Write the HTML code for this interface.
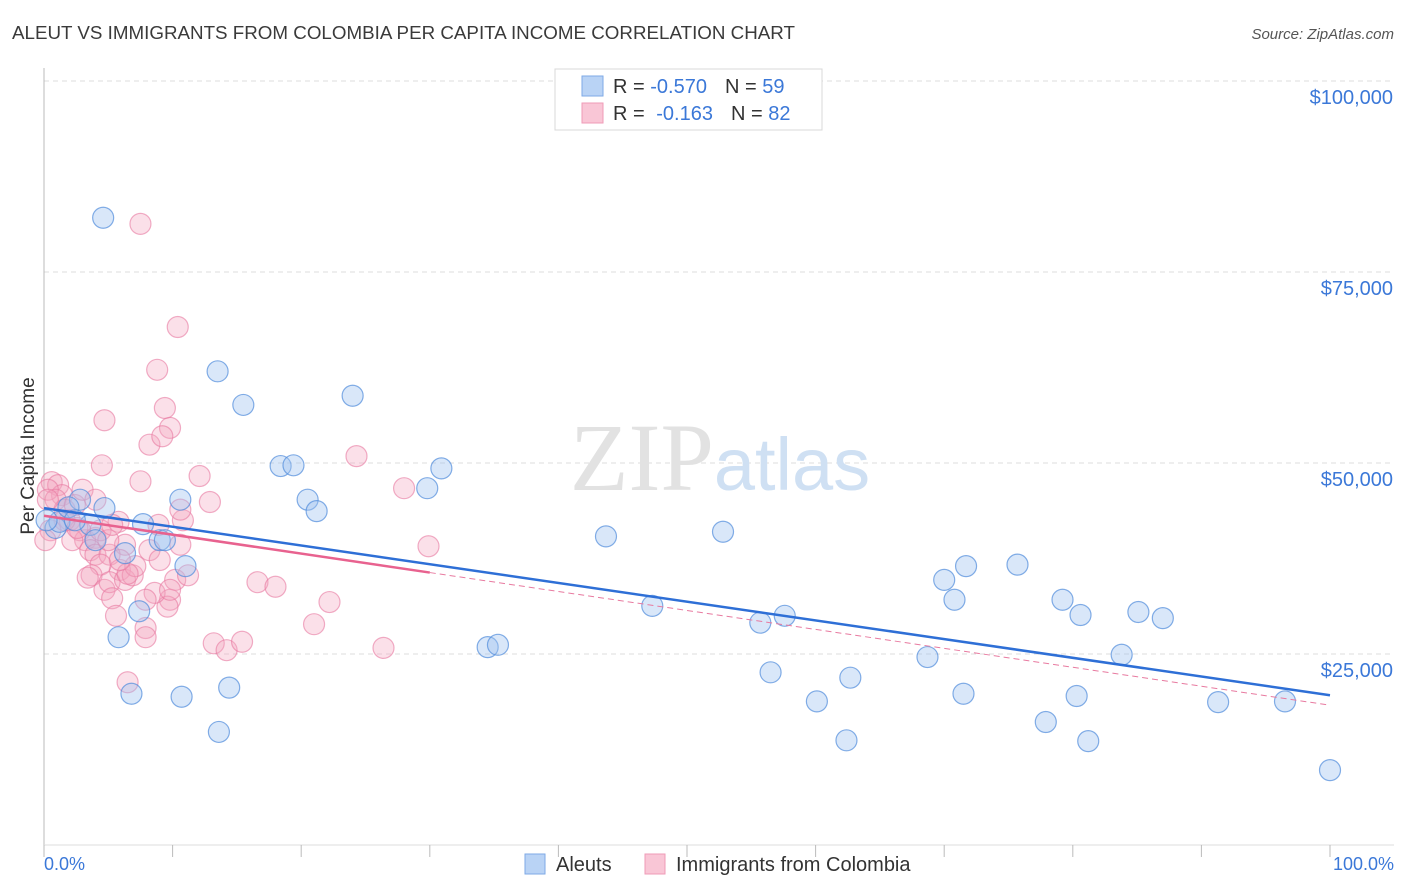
<!DOCTYPE html>
<html><head><meta charset="utf-8"><style>
body{margin:0;background:#fff;font-family:"Liberation Sans",sans-serif;}
svg{display:block}
</style></head><body>
<svg id="chart" width="1406" height="892" xmlns="http://www.w3.org/2000/svg">
<text x="12" y="39" font-size="18" fill="#3a3a3a" textLength="783" lengthAdjust="spacingAndGlyphs" font-family="Liberation Sans, sans-serif">ALEUT VS IMMIGRANTS FROM COLOMBIA PER CAPITA INCOME CORRELATION CHART</text>
<text x="1394" y="39" font-size="15" fill="#555" text-anchor="end" font-style="italic">Source: ZipAtlas.com</text>
<text transform="translate(34,456) rotate(-90)" font-size="19" fill="#333" text-anchor="middle">Per Capita Income</text>
<g id="grid"></g>
<text x="720" y="490" font-size="96" text-anchor="middle" fill="#e2e2e2" font-family="Liberation Serif, serif">ZIP<tspan fill="#cfe0f3" font-family="Liberation Sans, sans-serif" font-size="74">atlas</tspan></text>
<g id="points"></g>
<g id="trends"></g>
<g>
<rect x="555" y="69" width="267" height="61" fill="#fff" stroke="#d8d8d8"/>
<rect x="582" y="76" width="21" height="20" fill="#b9d3f5" stroke="#7eaae6"/>
<rect x="582" y="103" width="21" height="20" fill="#f9c6d6" stroke="#ef9bb7"/>
<text x="613" y="93" font-size="20" fill="#333">R = <tspan fill="#3b78d8">-0.570</tspan><tspan dx="18">N = </tspan><tspan fill="#3b78d8">59</tspan></text>
<text x="613" y="120" font-size="20" fill="#333">R = <tspan fill="#3b78d8" dx="6">-0.163</tspan><tspan dx="18">N = </tspan><tspan fill="#3b78d8">82</tspan></text>
</g>
<g>
<rect x="525" y="854" width="20" height="20" fill="#b9d3f5" stroke="#7eaae6"/>
<text x="556" y="871" font-size="20" fill="#333">Aleuts</text>
<rect x="645" y="854" width="20" height="20" fill="#f9c6d6" stroke="#ef9bb7"/>
<text x="676" y="871" font-size="20" fill="#333">Immigrants from Colombia</text>
</g>
<text x="44" y="870" font-size="18" fill="#3b78d8">0.0%</text>
<text x="1394" y="870" font-size="18" fill="#3b78d8" text-anchor="end">100.0%</text>
</svg>
<script>
const yTickValues=[25000,50000,75000,100000];
const yTickLabels=["$25,000","$50,000","$75,000","$100,000"];
const xTickValues=[0,10,20,30,40,50,60,70,80,90,100];
const aleutX=[4.6,0.9,1.2,2.8,4.7,1.9,3.6,4.0,6.3,7.7,5.8,7.4,6.8,9.0,9.4,10.6,11.0,10.7,13.5,15.5,14.4,13.6,18.4,19.4,20.5,21.2,24.0,30.9,29.8,34.5,35.3,43.7,47.3,52.8,55.7,57.6,56.5,60.1,62.4,62.7,68.7,70.0,70.8,71.7,71.5,75.7,77.9,79.2,80.3,80.6,81.2,83.8,85.1,87.0,91.3,96.5,100,0.2,2.4];
const aleutY=[82.1,41.5,42.3,45.2,44.1,44.2,41.9,39.9,38.2,42.0,27.2,30.6,19.8,39.9,39.9,45.2,36.5,19.4,62.0,57.6,20.6,14.8,49.6,49.7,45.2,43.7,58.8,49.3,46.7,25.9,26.2,40.4,31.3,41.0,29.1,30.0,22.6,18.8,13.7,21.9,24.6,34.7,32.1,36.5,19.8,36.7,16.1,32.1,19.5,30.1,13.6,24.9,30.5,29.7,18.7,18.8,9.8,42.5,42.5];
const colX=[7.5,10.4,8.8,4.7,9.4,8.2,9.8,9.2,4.5,12.1,7.5,12.9,10.8,10.6,24.3,28.0,29.9,0.6,1.1,1.4,0.3,0.9,1.6,2.4,2.0,2.8,3.2,4.0,4.4,2.2,3.6,4.0,5.8,6.3,5.1,5.9,4.4,3.7,3.4,4.7,5.1,6.3,6.9,8.2,9.0,10.2,9.8,9.6,11.2,5.3,7.1,6.5,5.6,7.9,7.9,8.6,6.5,13.2,14.2,15.4,16.6,18.0,21.0,22.2,26.4,0.3,1.6,2.6,0.5,0.1,5.0,5.9,8.9,10.6,5.3,3.0,4.0,9.8,7.9];
const colY=[81.3,67.8,62.2,55.6,57.2,52.4,54.6,53.5,49.7,48.3,47.6,44.9,42.5,43.9,50.9,46.7,39.1,47.5,47.1,45.8,46.5,45.2,43.9,44.5,42.5,41.2,39.9,40.2,41.2,39.9,38.6,38.0,42.3,39.3,38.0,36.0,36.7,35.3,35.0,33.4,34.4,34.7,35.3,38.6,37.3,34.7,32.1,31.2,35.3,32.3,36.5,35.5,30.0,28.4,27.2,33.0,21.3,26.4,25.5,26.6,34.4,33.8,28.9,31.8,25.8,45.2,42.5,41.5,41.2,39.9,39.9,37.3,41.9,39.3,41.9,46.5,45.2,33.4,32.1];
const aleutTrend=[44.1,19.6];
const colTrend=[43.1,18.3];
const colSolidEnd=30;

const NS="http://www.w3.org/2000/svg";
const sx=v=>44+v*12.86;
const sy=v=>845-v/25000*191;
function mk(tag,attrs,parent){const e=document.createElementNS(NS,tag);for(const k in attrs)e.setAttribute(k,attrs[k]);parent.appendChild(e);return e;}
const grid=document.getElementById('grid');
yTickValues.forEach((v,i)=>{
 const l=mk('line',{x1:44,x2:1394,y1:sy(v),y2:sy(v),stroke:'#dcdcdc','stroke-dasharray':'5,4'},grid);
 
 
 const t=mk('text',{x:1393,y:sy(v)+23,'font-size':20,fill:'#3b78d8','text-anchor':'end'},grid);
 t.textContent=yTickLabels[i];
 
 
});
const ya=mk('line',{x1:44,x2:44,y1:68,y2:845,stroke:'#bbb'},grid);


const xa=mk('line',{x1:44,x2:1394,y1:845,y2:845,stroke:'#ddd'},grid);


xTickValues.forEach(v=>{
 const t=mk('line',{x1:sx(v),x2:sx(v),y1:845,y2:857,stroke:'#bbb'},grid);
 
 
});
const pts=document.getElementById('points');
colX.forEach((x,i)=>{
 const c=mk('circle',{cx:sx(x),cy:sy(colY[i]*1000),r:10.5,fill:'rgba(244,165,192,0.35)',stroke:'rgba(232,120,160,0.6)','stroke-width':1.2},pts);
 
 
});
aleutX.forEach((x,i)=>{
 const c=mk('circle',{cx:sx(x),cy:sy(aleutY[i]*1000),r:10.5,fill:'rgba(160,196,240,0.4)',stroke:'rgba(80,140,220,0.7)','stroke-width':1.2},pts);
 
 
});
const tr=document.getElementById('trends');
const cy=(t,x)=>sy((t[0]+(t[1]-t[0])*x/100)*1000);
const cd=mk('line',{x1:sx(colSolidEnd),y1:cy(colTrend,colSolidEnd),x2:sx(100),y2:cy(colTrend,100),stroke:'#e87aa0','stroke-width':1,'stroke-dasharray':'6,4'},tr);


const cs=mk('line',{x1:sx(0),y1:cy(colTrend,0),x2:sx(colSolidEnd),y2:cy(colTrend,colSolidEnd),stroke:'#e8628f','stroke-width':2.5},tr);


const al=mk('line',{x1:sx(0),y1:cy(aleutTrend,0),x2:sx(100),y2:cy(aleutTrend,100),stroke:'#2e6fd6','stroke-width':2.5},tr);


</script>
</body></html>
